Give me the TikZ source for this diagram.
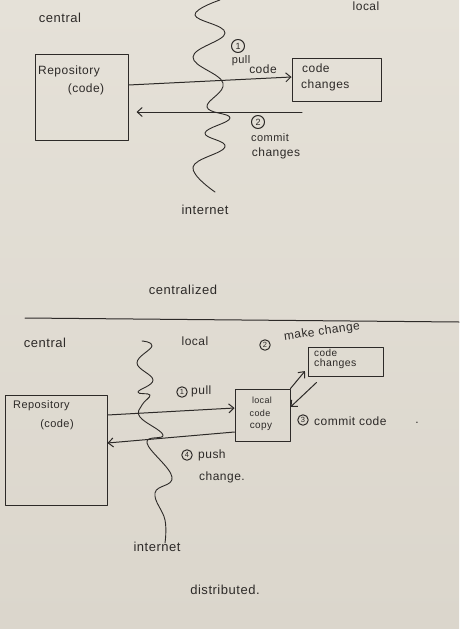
\documentclass[tikz,border=0pt]{standalone}
\usepackage{fontspec}
\setmainfont[LetterSpace=4]{Liberation Sans}
\usetikzlibrary{arrows.meta}
\definecolor{ink}{RGB}{45,42,40}
\definecolor{paperTop}{RGB}{229,225,216}
\definecolor{paperBot}{RGB}{219,214,204}
\tikzset{
  pen/.style={draw=ink, line width=1pt, line cap=round, line join=round},
  box/.style={pen, rectangle, inner sep=0pt},
  arr/.style={pen, -{Straight Barb[length=5pt,width=9pt]}},
  txt/.style={text=ink, inner sep=1pt},
  num/.style={pen, circle, inner sep=0pt, minimum size=13pt, text=ink, font=\fontsize{9}{9}\selectfont},
  smallnum/.style={num, minimum size=10.5pt, font=\fontsize{7.5}{7.5}\selectfont},
  wave/.style={pen, line width=0.9pt},
}
\begin{document}
\begin{tikzpicture}[x=1pt,y=-1pt]
  % paper
  \shade[top color=paperTop, bottom color=paperBot] (0,0) rectangle (459,629);
  \useasboundingbox (0,0) rectangle (459,629);

  % ---------- centralized ----------
  \node[txt, font=\fontsize{13}{13}\selectfont] (centralA) at (60,18) {central};
  \node[txt, font=\fontsize{12}{12}\selectfont, anchor=base] (localA) at (366,10) {local};

  \draw[wave] plot[smooth, tension=0.7] coordinates {
    (220,0) (195,15) (225,33) (193,57) (223,83) (207,107) (230,118)
    (205,133) (225,147) (193,167) (215,192)};

  \node[box, minimum width=93pt, minimum height=86pt] (repoA) at (81.5,97) {};
  \node[txt, font=\fontsize{12}{12}\selectfont, anchor=west] (repoAt) at (37,71) {Repository};
  \node[txt, font=\fontsize{12}{12}\selectfont] (repoAc) at (86,89) {(code)};

  \node[box, minimum width=89pt, minimum height=43pt] (chgA) at (336.5,79.5) {};
  \node[txt, font=\fontsize{12}{12}\selectfont, anchor=west] (chgAa) at (301,68) {code};
  \node[txt, font=\fontsize{12}{12}\selectfont, anchor=west] (chgAb) at (300,85) {changes};

  \draw[arr] (repoA.east |- 0,85) -- (chgA.west |- 0,77);
  \coordinate (cA) at (302,112);
  \draw[arr, shorten >=8pt] (cA) -- (repoA.east |- cA);

  \node[num] (n1A) at (238,46) {1};
  \node[txt, font=\fontsize{11}{11}\selectfont] (pullA) at (241,61) {pull};
  \node[txt, font=\fontsize{12}{12}\selectfont] (codeA) at (263,69) {code};
  \node[num] (n2A) at (258,122) {2};
  \node[txt, font=\fontsize{11}{11}\selectfont] (commitA) at (270,138) {commit};
  \node[txt, font=\fontsize{12}{12}\selectfont] (changesA) at (276,153) {changes};

  \node[txt, font=\fontsize{13}{13}\selectfont] (netA) at (205,210) {internet};
  \node[txt, font=\fontsize{13}{13}\selectfont] (titleA) at (183,290) {centralized};

  % divider
  \draw[pen] (25,318) -- (459,322);

  % ---------- distributed ----------
  \node[txt, font=\fontsize{13}{13}\selectfont] (centralB) at (45,343) {central};
  \node[txt, font=\fontsize{12}{12}\selectfont] (localB) at (195,341) {local};

  \draw[wave] plot[smooth, tension=0.7] coordinates {
    (142,341) (152,346) (137,363) (153,380) (138,392) (150,395) (142,405)
    (140,417) (163,435) (147,443) (172,477) (155,493) (165,520) (165,543)};

  \node[box, minimum width=102pt, minimum height=110pt] (repoB) at (56,450) {};
  \node[txt, font=\fontsize{11}{11}\selectfont, anchor=west] (repoBt) at (12,406) {Repository};
  \node[txt, font=\fontsize{11}{11}\selectfont] (repoBc) at (57,425) {(code)};

  \node[box, minimum width=55pt, minimum height=52pt] (copyB) at (262.5,415) {};
  \node[txt, font=\fontsize{9}{9}\selectfont] (copyBa) at (262,400) {local};
  \node[txt, font=\fontsize{9}{9}\selectfont] (copyBb) at (260,413) {code};
  \node[txt, font=\fontsize{10}{10}\selectfont] (copyBc) at (261,427) {copy};

  \node[box, minimum width=75pt, minimum height=29pt] (chgB) at (345.5,361.5) {};
  \node[txt, font=\fontsize{10}{10}\selectfont, anchor=west] (chgBa) at (313,353) {code};
  \node[txt, font=\fontsize{10.5}{10.5}\selectfont, anchor=west] (chgBb) at (313,364) {changes};

  \draw[arr] (repoB.east |- 0,415) -- (copyB.west |- 0,408);
  \draw[arr] (copyB.west |- 0,432) -- (repoB.east |- 0,443);
  \draw[arr, shorten >=4pt] (copyB.north east) -- (chgB.west |- 0,368);
  \draw[arr] ([xshift=9pt,yshift=-6pt]chgB.south west) -- (copyB.east |- 0,407);

  \node[smallnum] (n1B) at (182,392) {1};
  \node[txt, font=\fontsize{12}{12}\selectfont, anchor=west] (pullB) at (190,391) {pull};
  \node[smallnum] (n2B) at (265,345) {2};
  \node[txt, font=\fontsize{12}{12}\selectfont, rotate=8] (makeB) at (322,332) {make change};
  \node[smallnum] (n3B) at (303,420) {3};
  \node[txt, font=\fontsize{12}{12}\selectfont, anchor=west] (commitB) at (313,421) {commit code};
  \node[txt, font=\fontsize{12}{12}\selectfont] (dotB) at (417,423) {.};
  \node[smallnum] (n4B) at (187,455) {4};
  \node[txt, font=\fontsize{12}{12}\selectfont, anchor=west] (pushB) at (197,455) {push};
  \node[txt, font=\fontsize{12}{12}\selectfont, anchor=west] (changeB) at (198,477) {change.};

  \node[txt, font=\fontsize{13}{13}\selectfont] (netB) at (157,547) {internet};
  \node[txt, font=\fontsize{13}{13}\selectfont] (titleB) at (225,590) {distributed.};
\end{tikzpicture}
\end{document}
